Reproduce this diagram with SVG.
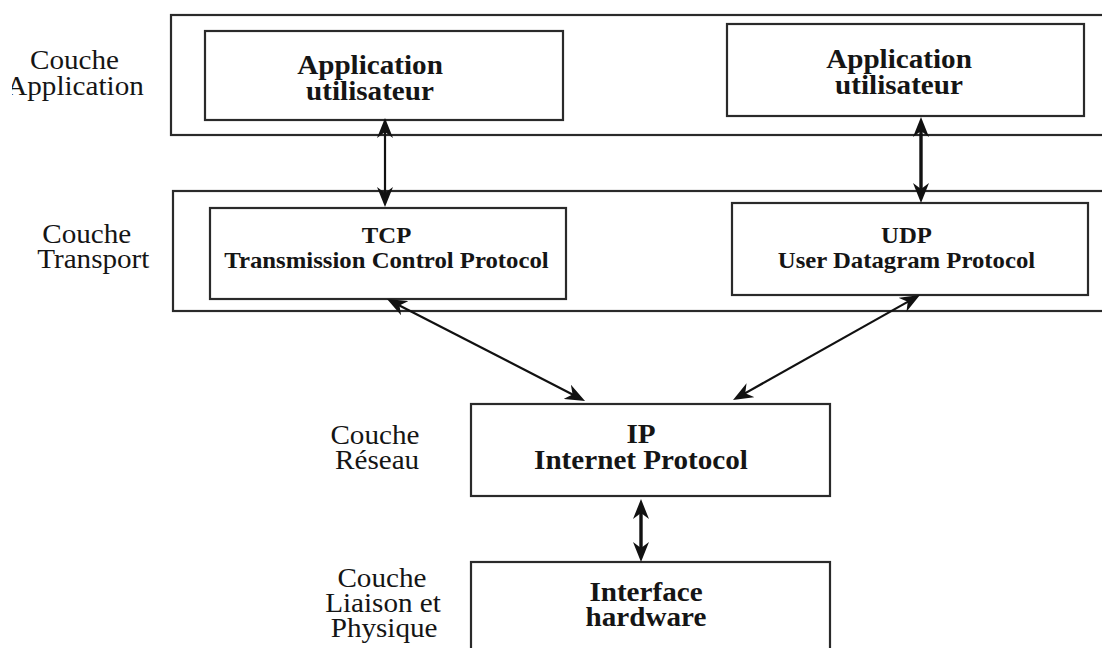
<svg xmlns="http://www.w3.org/2000/svg" width="1102" height="648" viewBox="0 0 1102 648">
<style>
.box{fill:none;stroke:#2a2a2a;stroke-width:2.2}
.lbl{font-family:"Liberation Serif","Times New Roman",serif;font-size:26.5px;fill:#151515;text-anchor:middle}
.b{font-weight:bold}
.s{font-size:22.5px}
.con{fill:none;stroke:#111;stroke-width:2.2}
.thk{stroke-width:3.4}
</style>
<defs>
<marker id="ah" viewBox="0 0 20 16" refX="12" refY="8" markerWidth="20" markerHeight="16" markerUnits="userSpaceOnUse" orient="auto-start-reverse">
<path d="M0,0 L20,8 L0,16 L6,8 z" fill="#111"/>
</marker>
<clipPath id="clipL"><rect x="12" y="0" width="1090" height="648"/></clipPath>
</defs>
<rect width="1102" height="648" fill="#fff"/>

<g id="layer-application">
<rect class="box" x="171" y="15" width="940" height="120"/>
<g clip-path="url(#clipL)">
<text class="lbl" transform="translate(75,0) scale(1.1,1)"><tspan x="-0.5" y="69">Couche</tspan><tspan x="0" y="95">Application</tspan></text>
</g>
</g>
<g id="app1">
<rect class="box" x="205" y="31" width="358" height="89"/>
<text class="lbl b" transform="translate(370,0) scale(1.1,1)"><tspan x="0" y="74">Application</tspan><tspan x="0" y="100">utilisateur</tspan></text>
</g>
<g id="app2">
<rect class="box" x="727" y="24" width="357" height="92"/>
<text class="lbl b" transform="translate(899,0) scale(1.1,1)"><tspan x="0" y="68">Application</tspan><tspan x="0" y="94">utilisateur</tspan></text>
</g>

<g id="layer-transport">
<rect class="box" x="173" y="191" width="940" height="120"/>
<text class="lbl" transform="translate(90,0) scale(1.1,1)"><tspan x="-3" y="243">Couche</tspan><tspan x="3" y="268">Transport</tspan></text>
</g>
<g id="tcp">
<rect class="box" x="210" y="208" width="356" height="91"/>
<text class="lbl b s" transform="translate(386.5,0) scale(1.1,1)"><tspan x="0" y="243">TCP</tspan><tspan x="0" y="268">Transmission Control Protocol</tspan></text>
</g>
<g id="udp">
<rect class="box" x="732" y="203" width="356" height="92"/>
<text class="lbl b s" transform="translate(906.5,0) scale(1.1,1)"><tspan x="0" y="243">UDP</tspan><tspan x="0" y="268">User Datagram Protocol</tspan></text>
</g>

<g id="ip">
<text class="lbl" transform="translate(376,0) scale(1.1,1)"><tspan x="-1" y="444">Couche</tspan><tspan x="1" y="469">Réseau</tspan></text>
<rect class="box" x="471" y="404" width="359" height="92"/>
<text class="lbl b" transform="translate(641,0) scale(1.1,1)"><tspan x="0" y="443">IP</tspan><tspan x="0" y="469">Internet Protocol</tspan></text>
</g>

<g id="interface">
<text class="lbl" transform="translate(383,0) scale(1.1,1)"><tspan x="-1" y="587">Couche</tspan><tspan x="0" y="612">Liaison et</tspan><tspan x="1" y="637">Physique</tspan></text>
<rect class="box" x="471" y="562" width="359" height="120"/>
<text class="lbl b" transform="translate(646,0) scale(1.1,1)"><tspan x="0" y="601">Interface</tspan><tspan x="0" y="626">hardware</tspan></text>
</g>

<g id="connectors">
<line class="con" x1="385" y1="126" x2="385" y2="199" marker-start="url(#ah)" marker-end="url(#ah)"/>
<line class="con thk" x1="921" y1="125" x2="921" y2="195" marker-start="url(#ah)" marker-end="url(#ah)"/>
<line class="con" x1="394.1" y1="302.7" x2="577.9" y2="397.3" marker-start="url(#ah)" marker-end="url(#ah)"/>
<line class="con" x1="913" y1="298.9" x2="740" y2="396.1" marker-start="url(#ah)" marker-end="url(#ah)"/>
<line class="con thk" x1="641" y1="507" x2="641" y2="554" marker-start="url(#ah)" marker-end="url(#ah)"/>
</g>
</svg>
